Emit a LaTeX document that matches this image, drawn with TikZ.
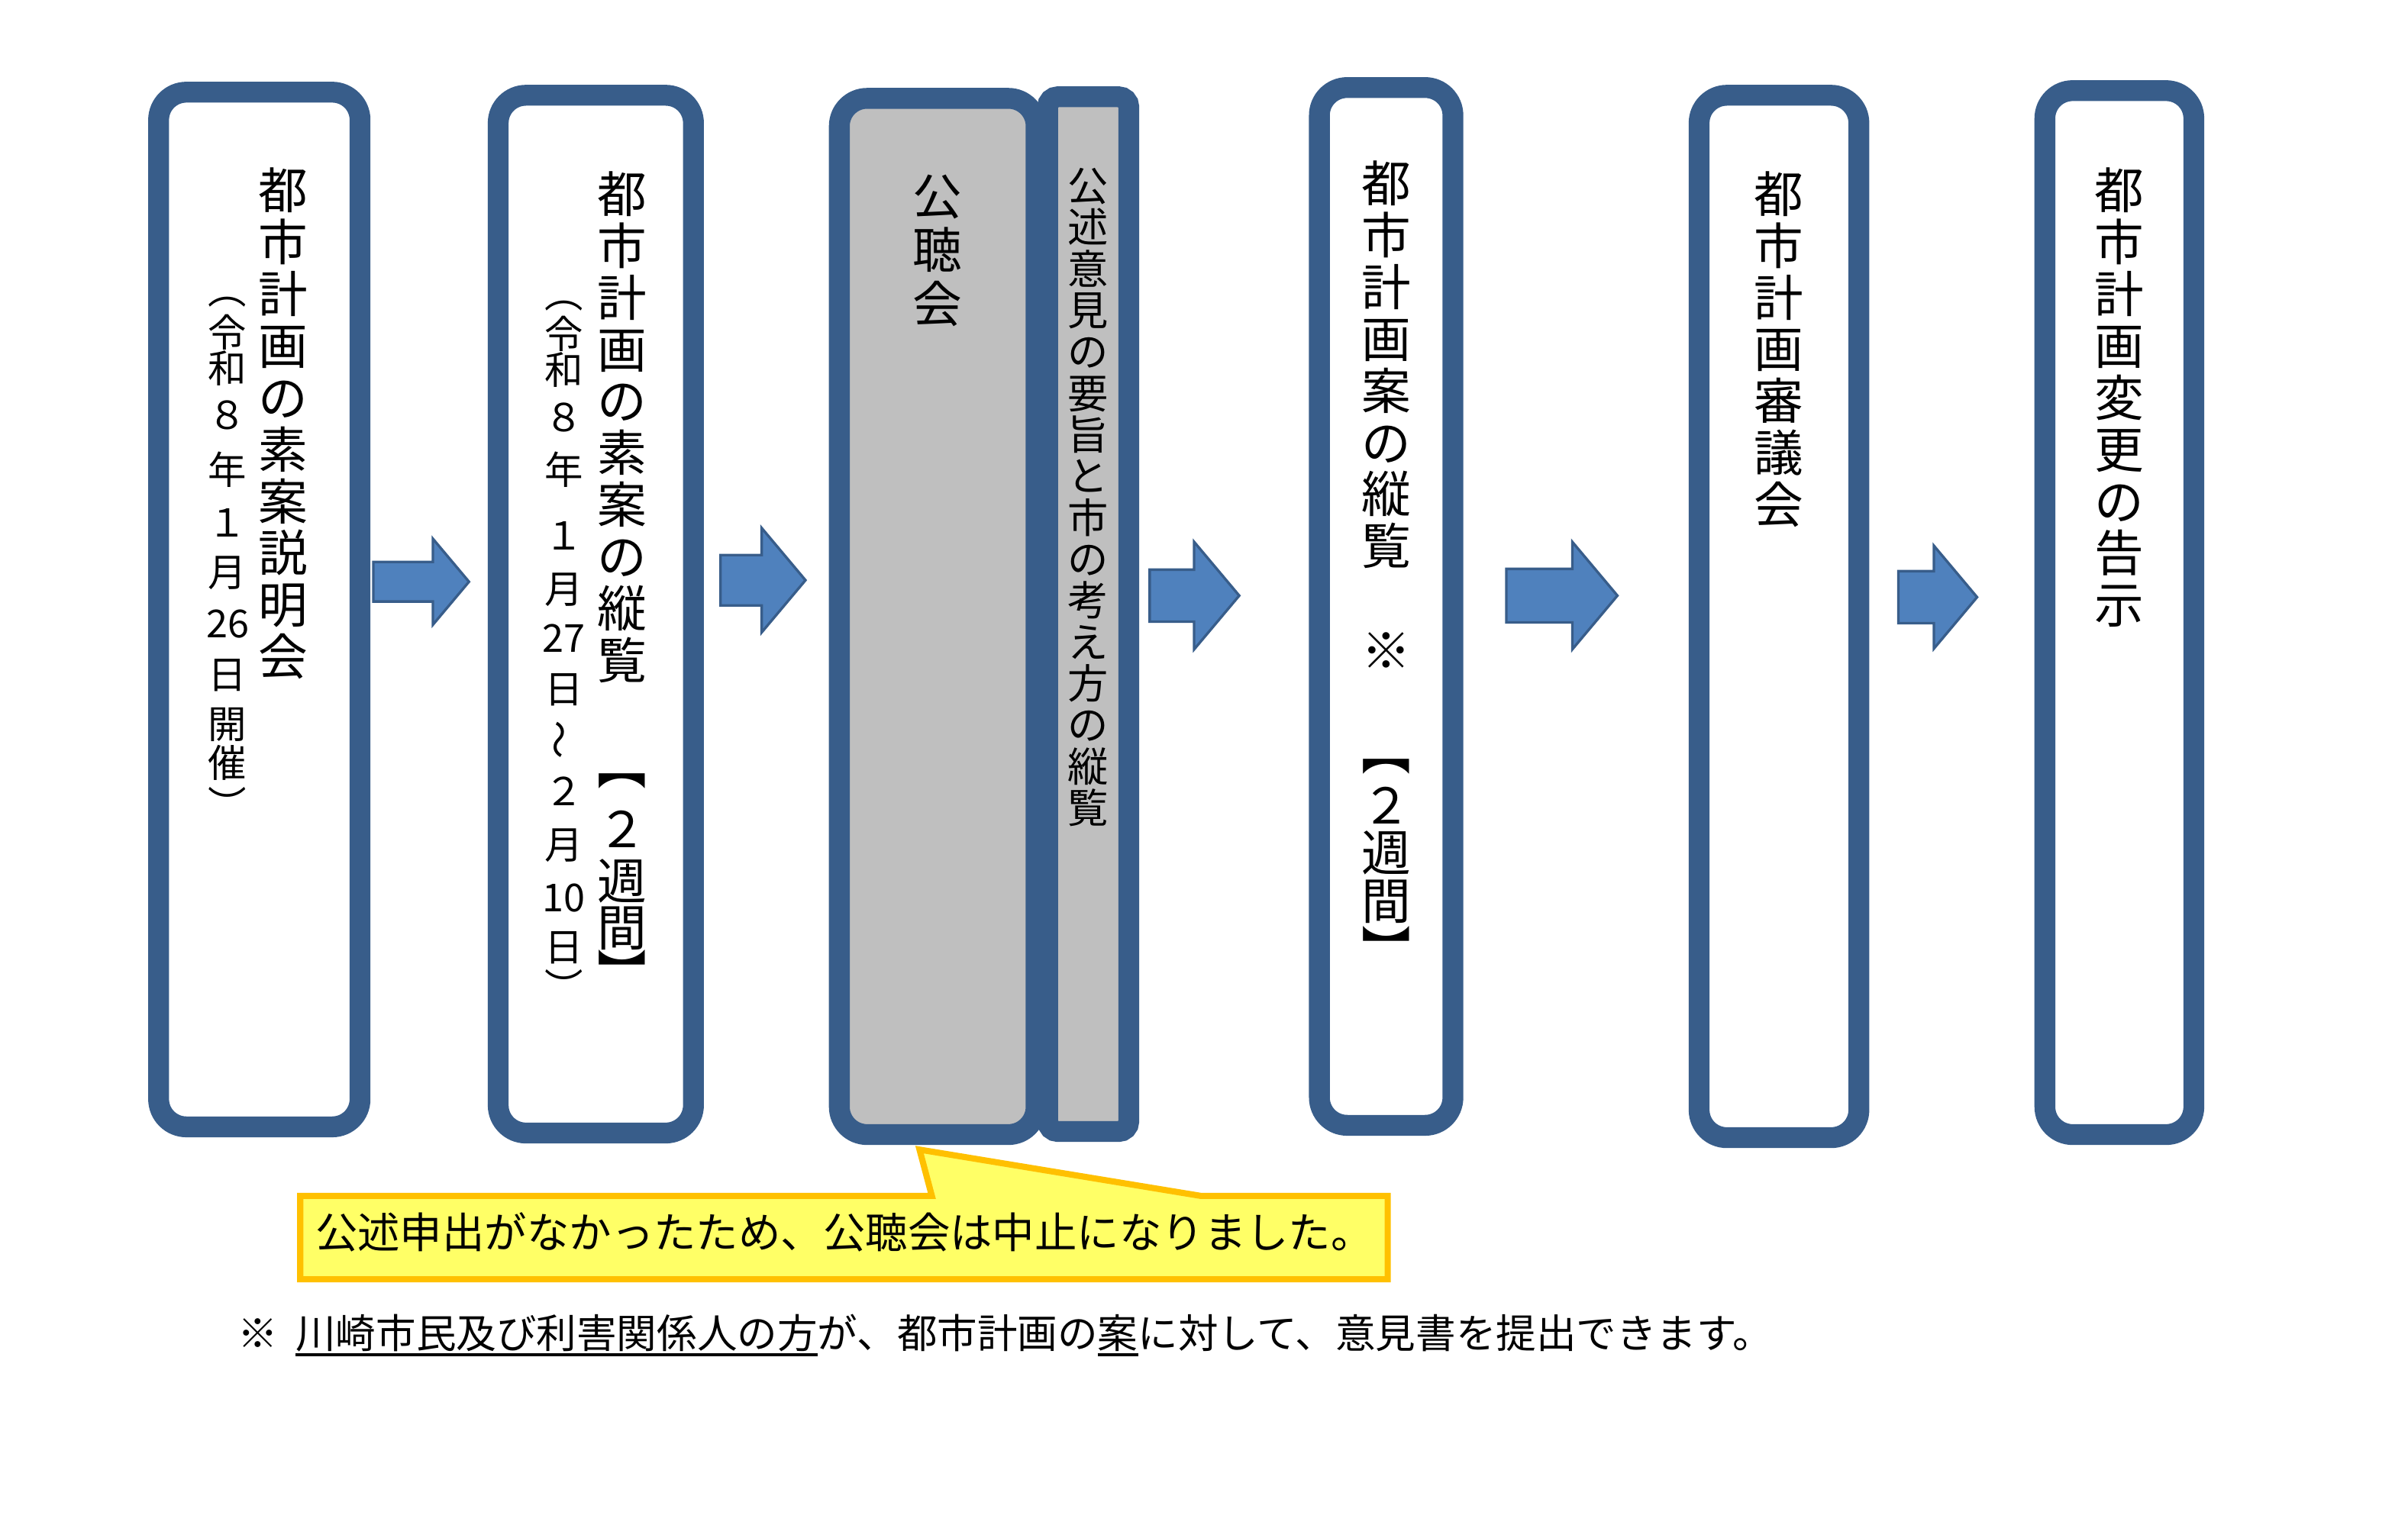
\documentclass[tikz,border=0pt]{standalone}
\usepackage{fontspec}
\setmainfont{Noto Sans CJK JP}
\usetikzlibrary{positioning,shapes.arrows}
\definecolor{stageblue}{HTML}{385D8A}
\definecolor{flowblue}{HTML}{4F81BD}
\definecolor{stagegray}{HTML}{BFBFBF}
\definecolor{noteyellow}{HTML}{FFFF66}
\definecolor{notegold}{HTML}{FFC000}
\newcommand{\footul}[1]{\setbox0\hbox{#1}\rlap{\rule[-3pt]{\wd0}{0.9pt}}\box0}
\begin{document}
\begin{tikzpicture}[x=0.2mm,y=-0.2mm,
  stage/.style={draw=stageblue, line width=2.7mm, rounded corners=3.6mm, fill=white, inner sep=0pt},
  flow/.style={single arrow, draw=stageblue, fill=flowblue, line width=0.33mm, single arrow tip angle=100, inner xsep=0pt, anchor=tail},
  vmain/.style={font=\fontsize{18.2}{19.1}\selectfont, align=center, inner sep=0pt},
  vsub/.style={font=\fontsize{14.2}{18.8}\selectfont, align=center, inner sep=0pt},
  vnarrow/.style={font=\fontsize{15}{15.3}\selectfont, align=center, inner sep=0pt},
  note/.style={fill=noteyellow, draw=notegold, line width=0.8mm}]
\useasboundingbox (0,0) rectangle (1560,990.2);
\node[stage, minimum width=26.1mm, minimum height=134.1mm] (s1) at (168,395){};
\node[stage, minimum width=25.3mm, minimum height=134.5mm] (s2) at (386,398){};
\node[stage, fill=stagegray, minimum width=25.5mm, minimum height=134.3mm] (s3) at (607.5,399.5){};
\node[stage, fill=stagegray, rounded corners=1.3mm, minimum width=10.5mm, minimum height=134.1mm] (s4) at (705,398){};
\node[stage, minimum width=17.3mm, minimum height=134.5mm] (s5) at (898,393){};
\node[stage, minimum width=20.7mm, minimum height=135.1mm] (s6) at (1152.5,399.5){};
\node[stage, minimum width=19.3mm, minimum height=135.3mm] (s7) at (1373,397){};
\node[vmain, below=11.1mm of s1.north, xshift=3.1mm] (l1) {都\\市\\計\\画\\の\\素\\案\\説\\明\\会};
\node[vsub, below=27.85mm of s1.north, xshift=-4.1mm] (d1) {︵\\[-3.1pt]令\\[-5.6pt]和\\[-1.5pt]８\\[1.3pt]年\\[0.7pt]１\\[-0.5pt]月\\[0.1pt]26\\日\\[-0.6pt]開\\[-4.5pt]催\\[-3.1pt]︶};
\node[vmain, below=11.15mm of s2.north, xshift=3.4mm] (l2) {都\\市\\計\\画\\の\\素\\案\\の\\縦\\覧\\[19.9pt]︻\\[4.1pt]２\\週\\[-1.7pt]間\\[-2.3pt]︼};
\node[vsub, below=27.9mm of s2.north, xshift=-4.1mm] (d2) {︵\\[-3.8pt]令\\[-5.6pt]和\\[-1.4pt]８\\[0.8pt]年\\[5.3pt]１\\[1pt]月\\[-0.9pt]27\\[0.1pt]日\\[1.8pt]\rotatebox{90}{～}\\[-1.7pt]２\\[0.8pt]月\\[0.7pt]10\\[-0.5pt]日\\[-3.8pt]︶};
\node[vmain, font=\fontsize{18.2}{19.8}\selectfont, below=11.2mm of s3.north] (l3) {公\\聴\\会};
\node[vnarrow, below=10.5mm of s4.north] (l4) {公\\述\\意\\見\\の\\要\\旨\\と\\市\\の\\考\\え\\方\\の\\縦\\覧};
\node[vmain, below=10.8mm of s5.north] (l5) {都\\市\\計\\画\\案\\の\\縦\\覧\\[19.3pt]※\\[18pt]︻\\[0.9pt]２\\[-1.4pt]週\\[-1.5pt]間\\[-1.1pt]︼};
\node[vmain, below=11.15mm of s6.north] (l6) {都\\市\\計\\画\\審\\議\\会};
\node[vmain, below=11.3mm of s7.north] (l7) {都\\市\\計\\画\\変\\更\\の\\告\\示};
\node[flow, minimum height=12.4mm, inner ysep=2.4mm, single arrow head extend=3mm] (a1) at (241,377){};
\node[flow, minimum height=11mm, inner ysep=3.1mm, single arrow head extend=3.5mm] (a2) at (466,376){};
\node[flow, minimum height=11.6mm, inner ysep=3.2mm, single arrow head extend=3.6mm] (a3) at (744,386){};
\node[flow, minimum height=14.4mm, inner ysep=3.3mm, single arrow head extend=3.5mm] (a4) at (975,386){};
\node[flow, minimum height=10.2mm, inner ysep=3.2mm, single arrow head extend=3.3mm] (a5) at (1229,387){};
\coordinate (cnw) at (194.5,775);
\coordinate (cpl) at (603.7,775);
\coordinate (ctip) at (595.7,745);
\coordinate (cpr) at (778,775);
\coordinate (cne) at (899,775);
\coordinate (cse) at (899,829);
\coordinate (csw) at (194.5,829);
\draw[note] (cnw) -- (cpl) -- (ctip) -- (cpr) -- (cne) -- (cse) -- (csw) -- cycle;
\node[font=\fontsize{15.6}{18}\selectfont, inner sep=0pt, anchor=base] (msg) at (547,809) {公述申出がなかったため、公聴会は中止になりました。};
\node[font=\fontsize{14.8}{18}\selectfont, inner sep=0pt, anchor=base west] (foot) at (153.5,873.5) {※\hspace{0.45em}\footul{川崎市民及び利害関係人の方}が、都市計画の\footul{案}に対して、意見書を提出できます。};
\end{tikzpicture}
\end{document}
